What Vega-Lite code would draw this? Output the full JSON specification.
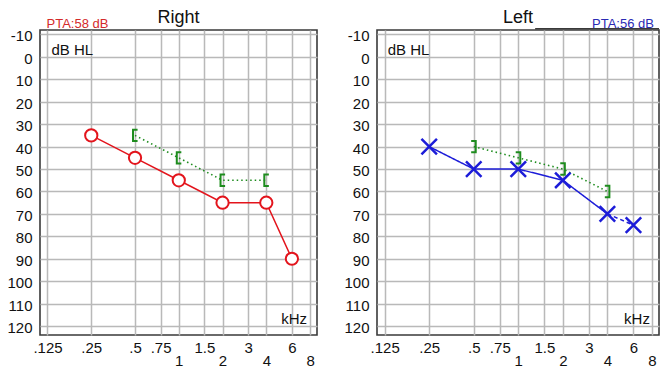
{
  "$schema": "https://vega.github.io/schema/vega-lite/v6.json",
  "padding": {"left": 6, "top": 8, "right": 2, "bottom": 0},
  "background": "white",
  "spacing": 25,
  "config": {
    "font": "Liberation Sans",
    "view": {"stroke": "#3a3a3a", "strokeWidth": 1.6},
    "axis": {
      "labelFont": "Liberation Sans",
      "labelFontSize": 15,
      "labelColor": "#111111",
      "gridColor": "#b9b9b9",
      "gridWidth": 1.5,
      "gridOpacity": 1,
      "domain": false,
      "ticks": false,
      "labelOverlap": false
    },
    "title": {"font": "Liberation Sans", "fontSize": 18, "fontWeight": "normal", "color": "#111111"}
  },
  "datasets": {
    "rac": [
      {"freq": 0.25, "db": 35}, {"freq": 0.5, "db": 45}, {"freq": 1, "db": 55},
      {"freq": 2, "db": 65}, {"freq": 4, "db": 65}, {"freq": 6, "db": 90}
    ],
    "rbc": [
      {"freq": 0.5, "db": 35}, {"freq": 1, "db": 45}, {"freq": 2, "db": 55}, {"freq": 4, "db": 55}
    ],
    "lac": [
      {"freq": 0.25, "db": 40}, {"freq": 0.5, "db": 50}, {"freq": 1, "db": 50},
      {"freq": 2, "db": 55}, {"freq": 4, "db": 70}, {"freq": 6, "db": 75}
    ],
    "lacline": [
      {"freq": 0.25, "db": 40, "seg": "solid"}, {"freq": 0.5, "db": 50, "seg": "solid"},
      {"freq": 1, "db": 50, "seg": "solid"}, {"freq": 2, "db": 55, "seg": "solid"},
      {"freq": 4, "db": 70, "seg": "solid"},
      {"freq": 4, "db": 70, "seg": "dashed"}, {"freq": 6, "db": 75, "seg": "dashed"}
    ],
    "lbc": [
      {"freq": 0.5, "db": 40}, {"freq": 1, "db": 45}, {"freq": 2, "db": 50}, {"freq": 4, "db": 60}
    ],
    "dbl": [{"freq": 0.125, "db": -3, "label": "dB HL"}],
    "khz": [{"freq": 8, "db": 117, "label": "kHz"}],
    "rpta": [{"freq": 0.125, "db": -12, "label": "PTA:58 dB"}],
    "lpta": [{"freq": 8, "db": -12, "label": "PTA:56 dB"}]
  },
  "hconcat": [
    {
      "width": 277,
      "height": 305,
      "title": {"text": "Right", "offset": -23, "baseline": "alphabetic"},
      "encoding": {
        "x": {"field": "freq", "type": "quantitative",
          "scale": {"type": "log", "domain": [0.111, 8.93], "nice": false, "zero": false},
          "axis": {
            "orient": "bottom", "title": null, "grid": true,
            "values": [0.125, 0.25, 0.5, 0.75, 1, 1.5, 2, 3, 4, 6, 8],
            "labelExpr": "datum.value == 0.125 ? '.125' : datum.value == 0.25 ? '.25' : datum.value == 0.5 ? '.5' : datum.value == 0.75 ? '.75' : toString(datum.value)",
            "labelPadding": {"condition": {"test": "datum.value == 1 || datum.value == 2 || datum.value == 4 || datum.value == 8", "value": 18}, "value": 5},
            "labelBaseline": "top", "labelFlush": false, "labelBound": false, "labelOverlap": false
          }},
        "y": {"field": "db", "type": "quantitative",
          "scale": {"domain": [-12, 124], "reverse": true, "nice": false, "zero": false},
          "axis": {"title": null, "grid": true, "values": [-10, 0, 10, 20, 30, 40, 50, 60, 70, 80, 90, 100, 110, 120],
            "labelExpr": "toString(datum.value)", "labelOverlap": false,
            "labelPadding": 8, "labelOffset": 1.5, "labelFlush": false}}
      },
      "layer": [
        {
          "data": {"name": "rbc"},
          "mark": {"type": "line", "color": "#1e8c1e", "strokeDash": [1.5, 3], "strokeWidth": 1.6}
        },
        {
          "data": {"name": "rbc"},
          "mark": {"type": "point", "shape": "M 0.45 -1 L -0.35 -1 L -0.35 1 L 0.45 1", "size": 130, "filled": false, "stroke": "#1e8c1e", "strokeWidth": 2, "opacity": 1}
        },
        {
          "data": {"name": "rac"},
          "mark": {"type": "line", "color": "#e3141c", "strokeWidth": 1.5}
        },
        {
          "data": {"name": "rac"},
          "mark": {"type": "point", "shape": "circle", "size": 150, "filled": true, "fill": "white", "fillOpacity": 1, "stroke": "#e3141c", "strokeWidth": 2, "opacity": 1}
        },
        {
          "data": {"name": "dbl"},
          "mark": {"type": "text", "align": "left", "baseline": "middle", "dx": 4, "fontSize": 15, "color": "#111111"},
          "encoding": {"text": {"field": "label"}}
        },
        {
          "data": {"name": "khz"},
          "mark": {"type": "text", "align": "right", "baseline": "middle", "dx": -3, "fontSize": 15, "color": "#111111"},
          "encoding": {"text": {"field": "label"}}
        },
        {
          "data": {"name": "rpta"},
          "mark": {"type": "text", "align": "left", "baseline": "alphabetic", "dx": -1, "dy": -2, "fontSize": 13, "color": "#d42a2a", "clip": false},
          "encoding": {"text": {"field": "label"}}
        }
      ]
    },
    {
      "width": 282,
      "height": 305,
      "title": {"text": "Left", "offset": -23, "baseline": "alphabetic"},
      "encoding": {
        "x": {"field": "freq", "type": "quantitative",
          "scale": {"type": "log", "domain": [0.111, 8.93], "nice": false, "zero": false},
          "axis": {
            "orient": "bottom", "title": null, "grid": true,
            "values": [0.125, 0.25, 0.5, 0.75, 1, 1.5, 2, 3, 4, 6, 8],
            "labelExpr": "datum.value == 0.125 ? '.125' : datum.value == 0.25 ? '.25' : datum.value == 0.5 ? '.5' : datum.value == 0.75 ? '.75' : toString(datum.value)",
            "labelPadding": {"condition": {"test": "datum.value == 1 || datum.value == 2 || datum.value == 4 || datum.value == 8", "value": 18}, "value": 5},
            "labelBaseline": "top", "labelFlush": false, "labelBound": false, "labelOverlap": false
          }},
        "y": {"field": "db", "type": "quantitative",
          "scale": {"domain": [-12, 124], "reverse": true, "nice": false, "zero": false},
          "axis": {"title": null, "grid": true, "values": [-10, 0, 10, 20, 30, 40, 50, 60, 70, 80, 90, 100, 110, 120],
            "labelExpr": "toString(datum.value)", "labelOverlap": false,
            "labelPadding": 8, "labelOffset": 1.5, "labelFlush": false}}
      },
      "layer": [
        {
          "data": {"name": "lbc"},
          "mark": {"type": "line", "color": "#1e8c1e", "strokeDash": [1.5, 3], "strokeWidth": 1.6}
        },
        {
          "data": {"name": "lbc"},
          "mark": {"type": "point", "shape": "M -0.45 -1 L 0.35 -1 L 0.35 1 L -0.45 1", "size": 130, "filled": false, "stroke": "#1e8c1e", "strokeWidth": 2, "opacity": 1}
        },
        {
          "data": {"name": "lacline"},
          "mark": {"type": "line", "color": "#1c1cd8", "strokeWidth": 1.5},
          "encoding": {
            "strokeDash": {"field": "seg", "type": "nominal", "scale": {"domain": ["solid", "dashed"], "range": [[1, 0], [4, 3]]}, "legend": null}
          }
        },
        {
          "data": {"name": "lac"},
          "mark": {"type": "point", "shape": "M -1 -1 L 1 1 M -1 1 L 1 -1", "size": 240, "filled": false, "stroke": "#1c1cd8", "strokeWidth": 2.5, "opacity": 1}
        },
        {
          "data": {"values": [{"freq": 1.3, "freq2": 8.93, "db": -12.6}]},
          "mark": {"type": "rule", "color": "#3a3a3a", "strokeWidth": 1.5, "clip": false},
          "encoding": {"x2": {"field": "freq2"}}
        },
        {
          "data": {"name": "dbl"},
          "mark": {"type": "text", "align": "left", "baseline": "middle", "dx": 3, "fontSize": 15, "color": "#111111"},
          "encoding": {"text": {"field": "label"}}
        },
        {
          "data": {"name": "khz"},
          "mark": {"type": "text", "align": "right", "baseline": "middle", "dx": -2, "fontSize": 15, "color": "#111111"},
          "encoding": {"text": {"field": "label"}}
        },
        {
          "data": {"name": "lpta"},
          "mark": {"type": "text", "align": "right", "baseline": "alphabetic", "dx": 2, "dy": -2, "fontSize": 13, "color": "#2a2ab4", "clip": false},
          "encoding": {"text": {"field": "label"}}
        }
      ]
    }
  ]
}
